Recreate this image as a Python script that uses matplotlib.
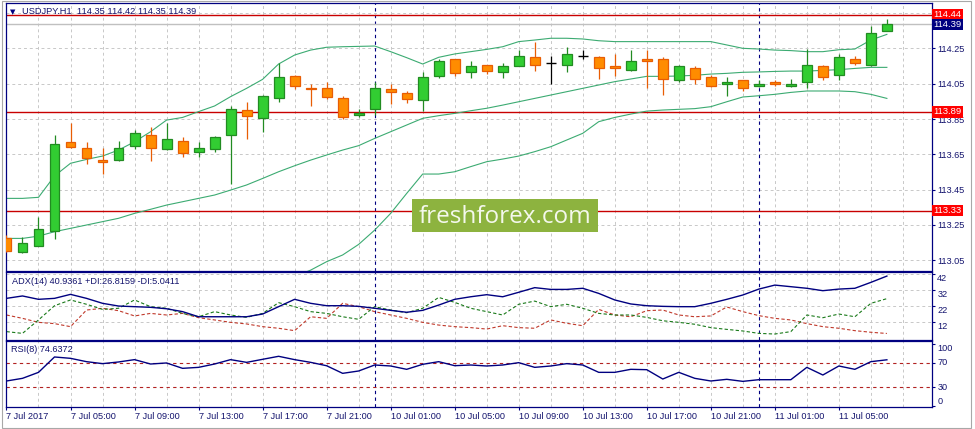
import matplotlib
matplotlib.use("Agg")
import matplotlib.pyplot as plt
from matplotlib.patches import Rectangle
from matplotlib.transforms import blended_transform_factory

# ---- data ----
opens = [113.173, 113.094, 113.132, 113.213, 113.718, 113.684, 113.617, 113.616, 113.695, 113.757,
         113.678, 113.723, 113.665, 113.678, 113.757, 113.899, 113.854, 113.967, 114.096, 114.024,
         114.024, 113.967, 113.875, 113.905, 114.018, 113.996, 113.956, 114.096, 114.188, 114.115,
         114.154, 114.115, 114.153, 114.200, 114.168, 114.154, 114.205, 114.200, 114.149, 114.126,
         114.188, 114.188, 114.069, 114.137, 114.086, 114.047, 114.069, 114.035, 114.058, 114.035,
         114.058, 114.149, 114.098, 114.188, 114.154, 114.35]
highs = [113.190, 113.183, 113.292, 113.759, 113.825, 113.718, 113.684, 113.723, 113.788, 113.807,
         113.825, 113.748, 113.718, 113.752, 113.926, 113.945, 113.984, 114.168, 114.100, 114.047,
         114.062, 113.979, 113.907, 114.062, 114.047, 114.009, 114.117, 114.188, 114.190, 114.177,
         114.156, 114.168, 114.241, 114.285, 114.205, 114.257, 114.241, 114.205, 114.217, 114.241,
         114.241, 114.200, 114.154, 114.149, 114.098, 114.086, 114.071, 114.069, 114.069, 114.075,
         114.245, 114.154, 114.217, 114.205, 114.376, 114.42]
lows = [113.095, 113.090, 113.130, 113.167, 113.684, 113.593, 113.536, 113.612, 113.678, 113.614,
        113.675, 113.636, 113.636, 113.665, 113.483, 113.735, 113.774, 113.945, 114.018, 113.926,
        113.964, 113.852, 113.863, 113.873, 113.935, 113.943, 113.897, 114.085, 114.096, 114.085,
        114.107, 114.085, 114.150, 114.124, 114.047, 114.115, 114.188, 114.075, 114.096, 114.124,
        114.024, 113.984, 114.058, 114.047, 114.033, 113.979, 114.007, 114.033, 114.035, 114.033,
        114.024, 114.069, 114.069, 114.154, 114.149, 114.35]
closes = [113.103, 113.145, 113.224, 113.706, 113.693, 113.627, 113.604, 113.684, 113.769, 113.684,
          113.735, 113.655, 113.684, 113.748, 113.905, 113.867, 113.979, 114.086, 114.037, 114.018,
          113.977, 113.863, 113.886, 114.024, 114.005, 113.965, 114.086, 114.177, 114.109, 114.149,
          114.124, 114.149, 114.205, 114.154, 114.168, 114.217, 114.205, 114.137, 114.137, 114.177,
          114.177, 114.075, 114.149, 114.075, 114.035, 114.058, 114.024, 114.047, 114.047, 114.047,
          114.154, 114.086, 114.200, 114.166, 114.336, 114.39]

bb_upper = [113.400, 113.400, 113.406, 113.527, 113.599, 113.621, 113.640, 113.674, 113.721, 113.778,
            113.844, 113.859, 113.892, 113.924, 113.977, 114.024, 114.075, 114.162, 114.213, 114.241,
            114.257, 114.260, 114.262, 114.264, 114.232, 114.198, 114.162, 114.200, 114.219, 114.232,
            114.245, 114.260, 114.289, 114.298, 114.308, 114.308, 114.304, 114.294, 114.289, 114.289,
            114.289, 114.289, 114.289, 114.289, 114.289, 114.270, 114.251, 114.247, 114.241, 114.238,
            114.232, 114.232, 114.243, 114.247, 114.298, 114.330]
bb_mid = [113.173, 113.173, 113.186, 113.211, 113.230, 113.249, 113.268, 113.287, 113.315, 113.338,
          113.362, 113.381, 113.400, 113.419, 113.447, 113.476, 113.513, 113.551, 113.585, 113.617,
          113.646, 113.674, 113.699, 113.740, 113.778, 113.816, 113.854, 113.869, 113.882, 113.897,
          113.911, 113.929, 113.948, 113.967, 113.986, 114.005, 114.024, 114.043, 114.062, 114.077,
          114.092, 114.092, 114.094, 114.098, 114.105, 114.109, 114.115, 114.117, 114.120, 114.122,
          114.122, 114.126, 114.130, 114.137, 114.143, 114.143]
bb_lower = [112.946, 112.946, 112.966, 112.895, 112.861, 112.877, 112.896, 112.900, 112.909, 112.898,
            112.880, 112.903, 112.908, 112.914, 112.917, 112.928, 112.951, 112.940, 112.957, 112.993,
            113.041, 113.079, 113.139, 113.220, 113.315, 113.428, 113.538, 113.538, 113.551, 113.580,
            113.608, 113.623, 113.640, 113.665, 113.693, 113.731, 113.769, 113.835, 113.859, 113.878,
            113.895, 113.901, 113.905, 113.909, 113.920, 113.948, 113.975, 113.982, 113.990, 114.001,
            114.009, 114.009, 114.009, 114.005, 113.990, 113.967]

adx = [27.0, 28.5, 26.4, 27.0, 29.5, 27.0, 23.9, 22.2, 21.8, 21.4,
       20.5, 18.7, 15.5, 15.5, 15.5, 15.5, 17.2, 21.8, 26.4, 23.9,
       22.4, 22.4, 22.0, 20.8, 19.5, 18.3, 19.5, 22.8, 26.4, 28.0,
       29.3, 28.0, 30.8, 33.7, 32.6, 32.6, 33.3, 30.1, 26.0, 23.5,
       22.4, 22.0, 21.8, 21.8, 23.9, 26.4, 29.1, 32.8, 35.3, 34.3,
       33.3, 31.8, 32.8, 33.3, 37.0, 40.94]
plus_di = [6.2, 5.1, 13.5, 22.4, 26.0, 23.3, 20.1, 20.8, 26.0, 21.8,
           20.8, 17.6, 15.5, 18.7, 16.6, 15.1, 17.6, 24.3, 21.8, 18.7,
           17.6, 15.5, 13.9, 21.8, 19.7, 18.0, 20.8, 27.6, 24.5, 20.8,
           18.7, 16.6, 23.3, 25.3, 21.8, 23.3, 20.8, 17.6, 16.6, 16.6,
           15.1, 13.0, 12.0, 10.8, 8.7, 7.6, 6.6, 5.1, 4.7, 6.2,
           16.6, 14.9, 17.2, 15.5, 23.9, 26.82]
minus_di = [16.6, 14.5, 12.0, 11.2, 9.3, 19.7, 20.8, 19.3, 16.0, 17.6,
            16.6, 17.6, 14.9, 13.5, 12.0, 11.0, 9.3, 8.3, 6.8, 15.5,
            14.5, 23.9, 21.8, 18.7, 16.6, 14.5, 12.0, 10.3, 9.3, 8.7,
            7.8, 9.9, 8.7, 8.3, 13.5, 11.4, 9.9, 20.1, 16.6, 15.5,
            19.3, 19.7, 16.6, 15.5, 16.0, 21.6, 18.7, 16.2, 14.5, 13.5,
            11.2, 9.3, 8.3, 6.8, 5.8, 5.04]
rsi = [40.3, 44.6, 54.3, 79.2, 77.0, 71.6, 68.4, 71.1, 74.9, 67.8,
       69.5, 60.8, 62.4, 67.8, 74.9, 70.5, 75.4, 80.3, 74.9, 70.5,
       65.0, 52.7, 56.5, 66.2, 64.6, 59.2, 67.3, 71.6, 65.1, 66.2,
       64.6, 66.2, 70.0, 62.4, 64.6, 68.4, 66.2, 54.3, 54.3, 59.2,
       58.6, 43.5, 54.3, 44.6, 40.3, 43.0, 39.7, 42.4, 42.4, 42.4,
       62.4, 50.0, 64.6, 59.2, 71.6, 74.64]

xtick_pos = [0, 4, 8, 12, 16, 20, 24, 28, 32, 36, 40, 44, 48, 52]
xtick_labels = ["7 Jul 2017", "7 Jul 05:00", "7 Jul 09:00", "7 Jul 13:00", "7 Jul 17:00",
                "7 Jul 21:00", "10 Jul 01:00", "10 Jul 05:00", "10 Jul 09:00", "10 Jul 13:00",
                "10 Jul 17:00", "10 Jul 21:00", "11 Jul 01:00", "11 Jul 05:00"]
day_breaks = [23, 47]
red_levels = [114.44, 113.89, 113.33]
bid = 114.39
price_ticks = [113.05, 113.25, 113.45, 113.65, 113.85, 114.05, 114.25]
adx_ticks = [42, 32, 22, 12]
rsi_levels = [70, 30]

# ---- styling ----
NAVY = "#000080"
TXT = "#14146e"
GRID = "#c8c8c8"
FONT = "Liberation Sans"
plt.rcParams["font.family"] = [FONT, "DejaVu Sans"]

W, H = 975, 429
fig = plt.figure(figsize=(W / 100, H / 100), dpi=100)
fig.patch.set_facecolor("white")


def px_rect(l, t, r, b):
    return [l / W, 1 - b / H, (r - l) / W, (b - t) / H]


ax = fig.add_axes(px_rect(6, 3, 931.7, 270.5))
ax_adx = fig.add_axes(px_rect(6, 272.3, 931.7, 339.5))
ax_rsi = fig.add_axes(px_rect(6, 341.3, 931.7, 406.7))

xs = list(range(len(opens)))
for a in (ax, ax_adx, ax_rsi):
    a.set_xlim(-0.03, 57.8)
    for s in a.spines.values():
        s.set_color(NAVY)
        s.set_linewidth(0.9)
    for k in range(0, 58, 2):
        a.axvline(k, color=GRID, lw=0.7, ls=(0, (3, 3)), zorder=0)
    for k in day_breaks:
        a.axvline(k, color=NAVY, lw=0.8, ls=(0, (3, 3)), zorder=1)
    a.tick_params(axis="x", bottom=False, labelbottom=False)

# ---- main price panel ----
ax.set_ylim(112.991, 114.508)
for p in price_ticks + [114.45]:
    ax.axhline(p, color=GRID, lw=0.7, ls=(0, (3, 3)), zorder=0)
ax.axhline(bid, color="#c0c0c0", lw=1.0, zorder=1)
for lv in red_levels:
    ax.axhline(lv, color="#c80000", lw=1.0, zorder=1)

# bollinger bands
ax.plot(xs, bb_upper, color="#3cab72", lw=0.8, zorder=2)
ax.plot(xs, bb_mid, color="#3cab72", lw=0.8, zorder=2)
ax.plot(xs, bb_lower, color="#3cab72", lw=0.8, zorder=2)

bw = 0.62
for k, (o, h, l, c) in enumerate(zip(opens, highs, lows, closes)):
    if c > o:
        fill, edge = "#32cd32", "#228b22"
    elif c < o:
        fill, edge = "#ff8c00", "#e85d04"
    else:
        fill, edge = "black", "black"
    ax.vlines(k, l, h, color=edge, lw=0.9, zorder=3)
    if c == o:
        ax.hlines(o, k - bw / 2, k + bw / 2, color=edge, lw=1.0, zorder=4)
    else:
        ax.add_patch(Rectangle((k - bw / 2, min(o, c)), bw, abs(c - o),
                               facecolor=fill, edgecolor=edge, lw=0.9, zorder=4))

ax.yaxis.tick_right()
ax.set_yticks(price_ticks)
ax.set_yticklabels([f"{p:.2f}" for p in price_ticks])
ax.tick_params(axis="y", length=2.5, width=0.8, color=NAVY, labelsize=6.6,
               labelcolor=TXT, pad=1.5)

# price level boxes on the right scale
tr = blended_transform_factory(ax.transAxes, ax.transData)
for lv, txt, bg in [(114.44, "114.44", "#ff0000"), (bid - 0.004, "114.39", NAVY),
                    (113.89, "113.89", "#ff0000"), (113.33, "113.33", "#ff0000")]:
    ax.text(1.0018, lv, txt, transform=tr, ha="left", va="center", color="white",
            fontsize=6.8, clip_on=False, zorder=10,
            bbox=dict(boxstyle="square,pad=0.12", fc=bg, ec="none"))

ax.text(0.004, 0.967, "\u25bc", transform=ax.transAxes, fontsize=5, color=NAVY,
        va="center", ha="left", family="DejaVu Sans")
ax.text(0.017, 0.967, "USDJPY.H1  114.35 114.42 114.35 114.39", transform=ax.transAxes,
        fontsize=6.7, color=TXT, va="center", ha="left")

# ---- ADX panel ----
ax_adx.set_ylim(1.27, 43.3)
for v in adx_ticks:
    ax_adx.axhline(v, color=GRID, lw=0.7, ls=(0, (3, 3)), zorder=0)
ax_adx.plot(xs, minus_di, color="#c0392b", lw=0.8, ls=(0, (3, 2)), zorder=2)
ax_adx.plot(xs, plus_di, color="#1a7a1a", lw=0.8, ls=(0, (3, 2)), zorder=2)
ax_adx.plot(xs, adx, color=NAVY, lw=1.0, zorder=3)
ax_adx.set_yticks(adx_ticks)
ax_adx.yaxis.tick_right()
ax_adx.tick_params(axis="y", length=2.5, width=0.8, color=NAVY, labelright=False)
tr2 = blended_transform_factory(ax_adx.transAxes, ax_adx.transData)
for v in adx_ticks:
    ax_adx.text(1.006, v, str(v), transform=tr2, fontsize=6.6, color=TXT,
                ha="left", va="top", clip_on=False)
ax_adx.text(0.006, 0.86, "ADX(14) 40.9361 +DI:26.8159 -DI:5.0411", transform=ax_adx.transAxes,
            fontsize=6.6, color=TXT, va="center", ha="left")

# ---- RSI panel ----
ax_rsi.set_ylim(-1.35, 104.6)
for v in rsi_levels:
    ax_rsi.axhline(v, color="#b22222", lw=0.8, ls=(0, (3, 3)), zorder=1)
ax_rsi.plot(xs, rsi, color=NAVY, lw=1.0, zorder=3)
ax_rsi.set_yticks([100, 70, 30, 0])
ax_rsi.yaxis.tick_right()
ax_rsi.tick_params(axis="y", length=2.5, width=0.8, color=NAVY, labelright=False)
tr3 = blended_transform_factory(ax_rsi.transAxes, ax_rsi.transData)
for v, va in [(100, "top"), (70, "center"), (30, "center"), (0, "bottom")]:
    ax_rsi.text(1.006, v, str(v), transform=tr3, fontsize=6.6, color=TXT,
                ha="left", va=va, clip_on=False)
ax_rsi.text(0.005, 0.87, "RSI(8) 74.6372", transform=ax_rsi.transAxes,
            fontsize=6.6, color=TXT, va="center", ha="left")

ax_rsi.set_xticks(xtick_pos)
ax_rsi.set_xticklabels(xtick_labels)
ax_rsi.tick_params(axis="x", bottom=True, labelbottom=True, length=2.5, width=0.8,
                   color=NAVY, labelsize=6.6, labelcolor=TXT, pad=1.5)
for lab in ax_rsi.get_xticklabels():
    lab.set_horizontalalignment("left")

# ---- watermark + window border ----
fig.add_artist(Rectangle((411.7 / W, 1 - 232.3 / H), 186 / W, 33.3 / H,
                         transform=fig.transFigure, fc="#8db33f", ec="none", zorder=5))
fig.text(504.7 / W, 1 - 217 / H, "freshforex.com", ha="center", va="center",
         fontsize=17.5, color="#f4f8ec", family="Open Sans", zorder=6)
fig.add_artist(Rectangle((1.5 / W, 1 - 428 / H), 969.5 / W, 427.5 / H,
                         transform=fig.transFigure, fill=False, ec="#a8a8a8", lw=0.8))

fig.savefig("out.png", dpi=100)
